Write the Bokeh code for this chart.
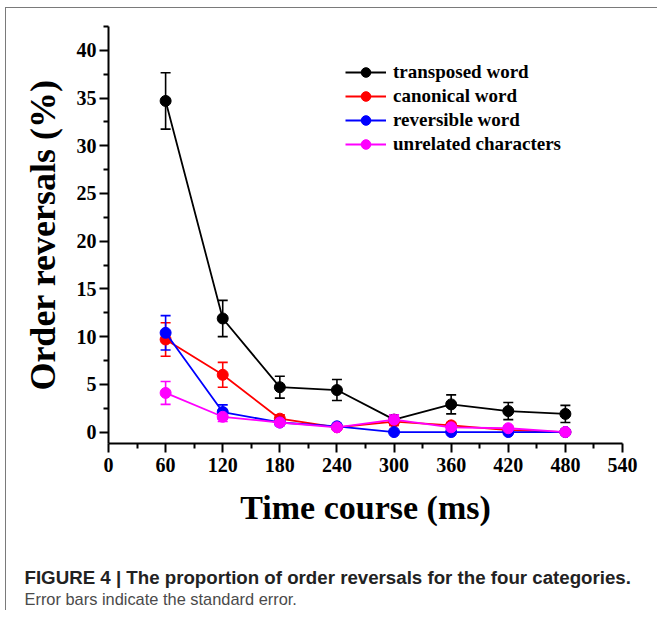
from bokeh.plotting import figure
from bokeh.models import (Range1d, FixedTicker, Whisker, ColumnDataSource, Legend,
                          LegendItem, TeeHead, Title)
from bokeh.embed import file_html
from bokeh.resources import INLINE

# ---- data ----
times = [60, 120, 180, 240, 300, 360, 420, 480]
transposed = [34.7, 11.9, 4.7, 4.4, 1.3, 2.9, 2.2, 1.9]
transposed_se = [2.95, 1.9, 1.15, 1.1, 0.3, 1.0, 0.9, 0.9]
canonical = [9.7, 6.0, 1.4, 0.5, 1.1, 0.7, 0.2, 0.0]
canonical_se = [1.75, 1.3, 0.4, 0.3, 0.4, 0.3, 0.2, 0.0]
reversible = [10.4, 2.1, 1.0, 0.6, 0.0, 0.0, 0.0, 0.0]
reversible_se = [1.8, 0.75, 0.3, 0.3, 0.0, 0.0, 0.0, 0.0]
unrelated = [4.1, 1.6, 1.0, 0.5, 1.3, 0.5, 0.4, 0.0]
unrelated_se = [1.2, 0.5, 0.3, 0.2, 0.5, 0.2, 0.2, 0.0]

series_names = ["transposed word", "canonical word", "reversible word", "unrelated characters"]
series_vals = [transposed, canonical, reversible, unrelated]
series_se = [transposed_se, canonical_se, reversible_se, unrelated_se]
series_colors = ["#000000", "#ff0000", "#0000ff", "#ff00ff"]

x_ticks = [0, 60, 120, 180, 240, 300, 360, 420, 480, 540]
x_minor = [30, 90, 150, 210, 270, 330, 390, 450, 510]
y_ticks = [0, 5, 10, 15, 20, 25, 30, 35, 40]
y_minor = [2.5, 7.5, 12.5, 17.5, 22.5, 27.5, 32.5, 37.5, 42.5]

caption_1 = "FIGURE 4 | The proportion of order reversals for the four categories."
caption_2 = "Error bars indicate the standard error."

SERIF = "Liberation Serif"
CAPTION_FONT = "'Liberation Sans Narrow', 'Liberation Sans', Arial, sans-serif"

p = figure(width=657, height=610, output_backend="svg", toolbar_location=None,
           x_range=Range1d(0, 540), y_range=Range1d(-1.2, 42.5),
           min_border_left=108, min_border_right=35, min_border_top=26,
           min_border_bottom=167)
p.outline_line_color = None
p.grid.visible = False
p.background_fill_color = "white"
p.border_fill_color = "white"

# thin grey frame along the top and left edges of the figure
p.stylesheets = [""":host::after {
    content: "";
    position: absolute;
    left: 5px;
    top: 7px;
    right: 0px;
    bottom: 0px;
    border-top: 1px solid #7a7a7a;
    border-left: 1px solid #7a7a7a;
    pointer-events: none;
    z-index: 10;
}"""]

p.xaxis.ticker = FixedTicker(ticks=x_ticks, minor_ticks=x_minor)
p.yaxis.ticker = FixedTicker(ticks=y_ticks, minor_ticks=y_minor)

for ax in (p.xaxis, p.yaxis):
    ax.axis_line_width = 2
    ax.axis_line_color = "black"
    ax.major_tick_line_width = 2
    ax.minor_tick_line_width = 2
    ax.major_tick_line_color = "black"
    ax.minor_tick_line_color = "black"
    ax.major_tick_out = 9
    ax.major_tick_in = 0
    ax.minor_tick_out = 5
    ax.minor_tick_in = 0
    ax.major_label_text_font = SERIF
    ax.major_label_text_font_style = "bold"
    ax.major_label_text_font_size = "20px"
    ax.major_label_text_color = "black"
    ax.axis_label_text_font = SERIF
    ax.axis_label_text_font_style = "bold"
    ax.axis_label_text_color = "black"

p.xaxis.axis_label = "Time course (ms)"
p.xaxis.axis_label_text_font_size = "34px"
p.xaxis.axis_label_standoff = 14
p.xaxis.major_label_standoff = 5
p.yaxis.axis_label = "Order reversals (%)"
p.yaxis.axis_label_text_font_size = "36px"
p.yaxis.axis_label_standoff = 11
p.yaxis.major_label_standoff = 3

items = []
for name, vals, se, col in zip(series_names, series_vals, series_se, series_colors):
    upper = [v + s for v, s in zip(vals, se)]
    lower = [v - s for v, s in zip(vals, se)]
    src = ColumnDataSource(dict(x=times, y=vals, upper=upper, lower=lower))
    ln = p.line("x", "y", source=src, line_color=col, line_width=1.8)
    w = Whisker(source=src, base="x", upper="upper", lower="lower",
                line_color=col, line_width=1.6,
                upper_head=TeeHead(size=10, line_color=col, line_width=1.6),
                lower_head=TeeHead(size=10, line_color=col, line_width=1.6))
    p.add_layout(w)
    sc = p.scatter("x", "y", source=src, size=11, marker="circle",
                   fill_color=col, line_color=col)
    items.append(LegendItem(label=name, renderers=[ln, sc]))

legend = Legend(items=items, location=(237, 287), glyph_width=41, glyph_height=24,
                label_height=24, spacing=0, padding=0, margin=0,
                label_standoff=7, label_text_font=SERIF, label_text_font_style="bold",
                label_text_font_size="19px", label_text_color="black",
                background_fill_alpha=0, border_line_color=None)
p.add_layout(legend, "center")

# caption below the chart (a blank spacer title, then the two caption lines)
spacer = Title(text=" ", text_font_size="1px", standoff=33)
t1 = Title(text=caption_1, align="left", offset=-84, standoff=0,
           text_font=CAPTION_FONT, text_font_style="bold", text_font_size="18.7px",
           text_color="#222222")
t2 = Title(text=caption_2, align="left", offset=-84, standoff=0,
           text_font=CAPTION_FONT, text_font_style="normal", text_font_size="16.4px",
           text_color="#4a4a4a")
p.add_layout(spacer, "below")
p.add_layout(t1, "below")
p.add_layout(t2, "below")

open("out.html", "w").write(file_html(p, INLINE))
